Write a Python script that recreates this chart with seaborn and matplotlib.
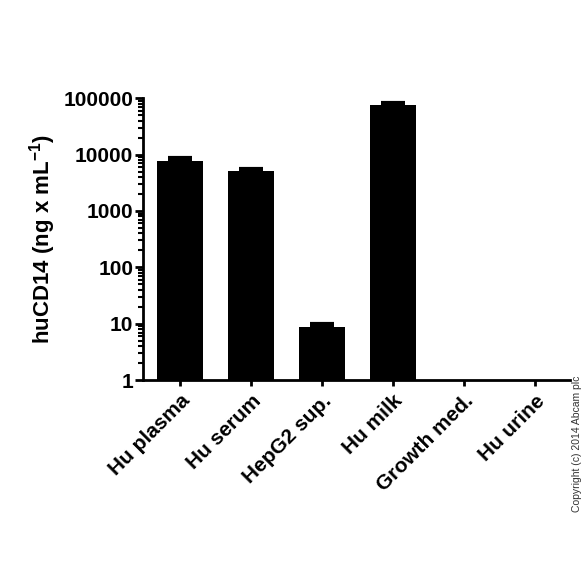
import numpy as np
import pandas as pd
import matplotlib
matplotlib.use('Agg')
import matplotlib.pyplot as plt
import seaborn as sns

# Data
samples = ['Hu plasma', 'Hu serum', 'HepG2 sup.', 'Hu milk', 'Growth med.', 'Hu urine']
conc = [7800, 5100, 8.7, 74000, 0, 0]
conc_err = [800, 500, 1.2, 8000, 0, 0]

df = pd.DataFrame({'sample': samples, 'conc': conc, 'err': conc_err})

sns.set_style('ticks')
plt.rcParams['font.family'] = ['Liberation Sans', 'DejaVu Sans']
plt.rcParams['mathtext.fontset'] = 'custom'
plt.rcParams['mathtext.bf'] = 'Liberation Sans:bold'
plt.rcParams['mathtext.rm'] = 'Liberation Sans:bold'
plt.rcParams['text.color'] = 'black'
plt.rcParams['axes.labelcolor'] = 'black'
plt.rcParams['xtick.color'] = 'black'
plt.rcParams['ytick.color'] = 'black'

fig = plt.figure(figsize=(5.84, 5.84), dpi=100)
ax = fig.add_axes([0.245, 0.349, 0.731, 0.483])

ax.set_yscale('log')
sns.barplot(data=df, x='sample', y='conc', color='black', width=0.65,
            errorbar=None, ax=ax, edgecolor='black', linewidth=0)
shown = df['conc'] > 0
ax.errorbar(np.arange(len(df))[shown], df['conc'][shown],
            yerr=[np.zeros(shown.sum()), df['err'][shown]],
            fmt='none', ecolor='black', elinewidth=2, capsize=8.5, capthick=3)

ax.set_ylim(1, 100000)
ax.set_xlim(-0.52, 5.49)
ax.set_yticks([1, 10, 100, 1000, 10000, 100000])
ax.set_yticklabels(['1', '10', '100', '1000', '10000', '100000'],
                   fontsize=15, fontweight='bold')
ax.set_xticks(range(len(samples)))
ax.set_xticklabels(samples, rotation=45, ha='right', rotation_mode='anchor',
                   fontsize=15, fontweight='bold')
ax.set_xlabel('')
ax.set_ylabel('huCD14 (ng x mL$^{\\mathrm{-1}}$)', fontsize=16, fontweight='bold',
              labelpad=4)

for s in ['top', 'right']:
    ax.spines[s].set_visible(False)
for s in ['left', 'bottom']:
    ax.spines[s].set_linewidth(2)
    ax.spines[s].set_color('black')
ax.tick_params(axis='y', which='major', length=6, width=2, pad=1)
ax.tick_params(axis='y', which='minor', length=3.5, width=1.5)
ax.tick_params(axis='x', which='major', length=4, width=2, pad=4)

fig.text(0.988, 0.24, 'Copyright (c) 2014 Abcam plc', rotation=90,
         fontsize=7.5, ha='center', va='center', color='#333333')

fig.savefig('out.png', dpi=100)
